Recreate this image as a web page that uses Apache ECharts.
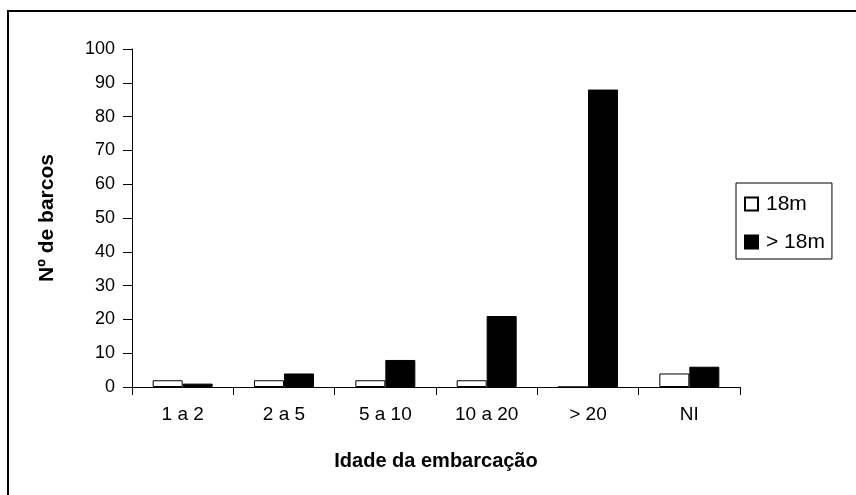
<!DOCTYPE html>
<html>
<head>
<meta charset="utf-8">
<script src="https://cdn.jsdelivr.net/npm/echarts@6/dist/echarts.min.js"></script>
<style>
html,body{margin:0;padding:0;background:#fff;}
#c{width:856px;height:495px;}
</style>
</head>
<body>
<div id="c"></div>
<script>
const categories = ['1 a 2', '2 a 5', '5 a 10', '10 a 20', '> 20', 'NI'];
const seriesNames = ['18m', '> 18m'];
const small = [2, 2, 2, 2, 0, 4];
const large = [1, 4, 8, 21, 88, 6];
const yTicks = [0, 10, 20, 30, 40, 50, 60, 70, 80, 90, 100];

const FONT = 'Liberation Sans, Arial, sans-serif';
const chart = echarts.init(document.getElementById('c'), null, {renderer: 'canvas'});
chart.setOption({
  animation: false,
  backgroundColor: '#fff',
  textStyle: {fontFamily: FONT, color: '#000'},
  graphic: [{
    type: 'rect',
    shape: {x: 8, y: 11, width: 900, height: 600},
    style: {fill: 'none', stroke: '#000', lineWidth: 2},
    silent: true,
    z: -10
  }],
  grid: {left: 132, right: 116, top: 49, bottom: 108},
  legend: {
    orient: 'vertical',
    left: 736,
    top: 183,
    padding: [10, 7, 6, 8],
    borderColor: '#000',
    borderWidth: 1,
    itemWidth: 13,
    itemHeight: 13,
    itemGap: 16,
    icon: 'rect',
    textStyle: {fontFamily: FONT, fontSize: 21, lineHeight: 22, color: '#000', padding: [0, 0, 0, 3]},
    data: seriesNames
  },
  xAxis: {
    type: 'category',
    data: categories,
    name: 'Idade da embarcação',
    nameLocation: 'middle',
    nameGap: 64,
    nameTextStyle: {fontFamily: FONT, fontSize: 20, fontWeight: 'bold', color: '#000'},
    axisLine: {lineStyle: {color: '#000', width: 1}},
    axisTick: {show: true, length: 8, lineStyle: {color: '#000'}},
    axisLabel: {fontFamily: FONT, fontSize: 19, color: '#000', margin: 18},
    splitLine: {show: false}
  },
  yAxis: {
    type: 'value',
    min: yTicks[0],
    max: yTicks[yTicks.length - 1],
    interval: yTicks[1] - yTicks[0],
    name: 'Nº de barcos',
    nameLocation: 'middle',
    nameGap: 74,
    nameRotate: 90,
    nameTextStyle: {fontFamily: FONT, fontSize: 21, fontWeight: 'bold', color: '#000'},
    axisLine: {show: true, lineStyle: {color: '#000', width: 1}},
    axisTick: {show: true, length: 9, lineStyle: {color: '#000'}},
    axisLabel: {fontFamily: FONT, fontSize: 18, color: '#000', margin: 17},
    splitLine: {show: false}
  },
  series: [
    {
      name: seriesNames[0],
      type: 'bar',
      data: small,
      barWidth: 30,
      barGap: '0%',
      itemStyle: {color: '#fff', borderColor: '#000', borderWidth: 1}
    },
    {
      name: seriesNames[1],
      type: 'bar',
      data: large,
      barWidth: 30,
      barGap: '0%',
      itemStyle: {color: '#000', borderColor: '#000', borderWidth: 1}
    }
  ]
});
</script>
</body>
</html>
